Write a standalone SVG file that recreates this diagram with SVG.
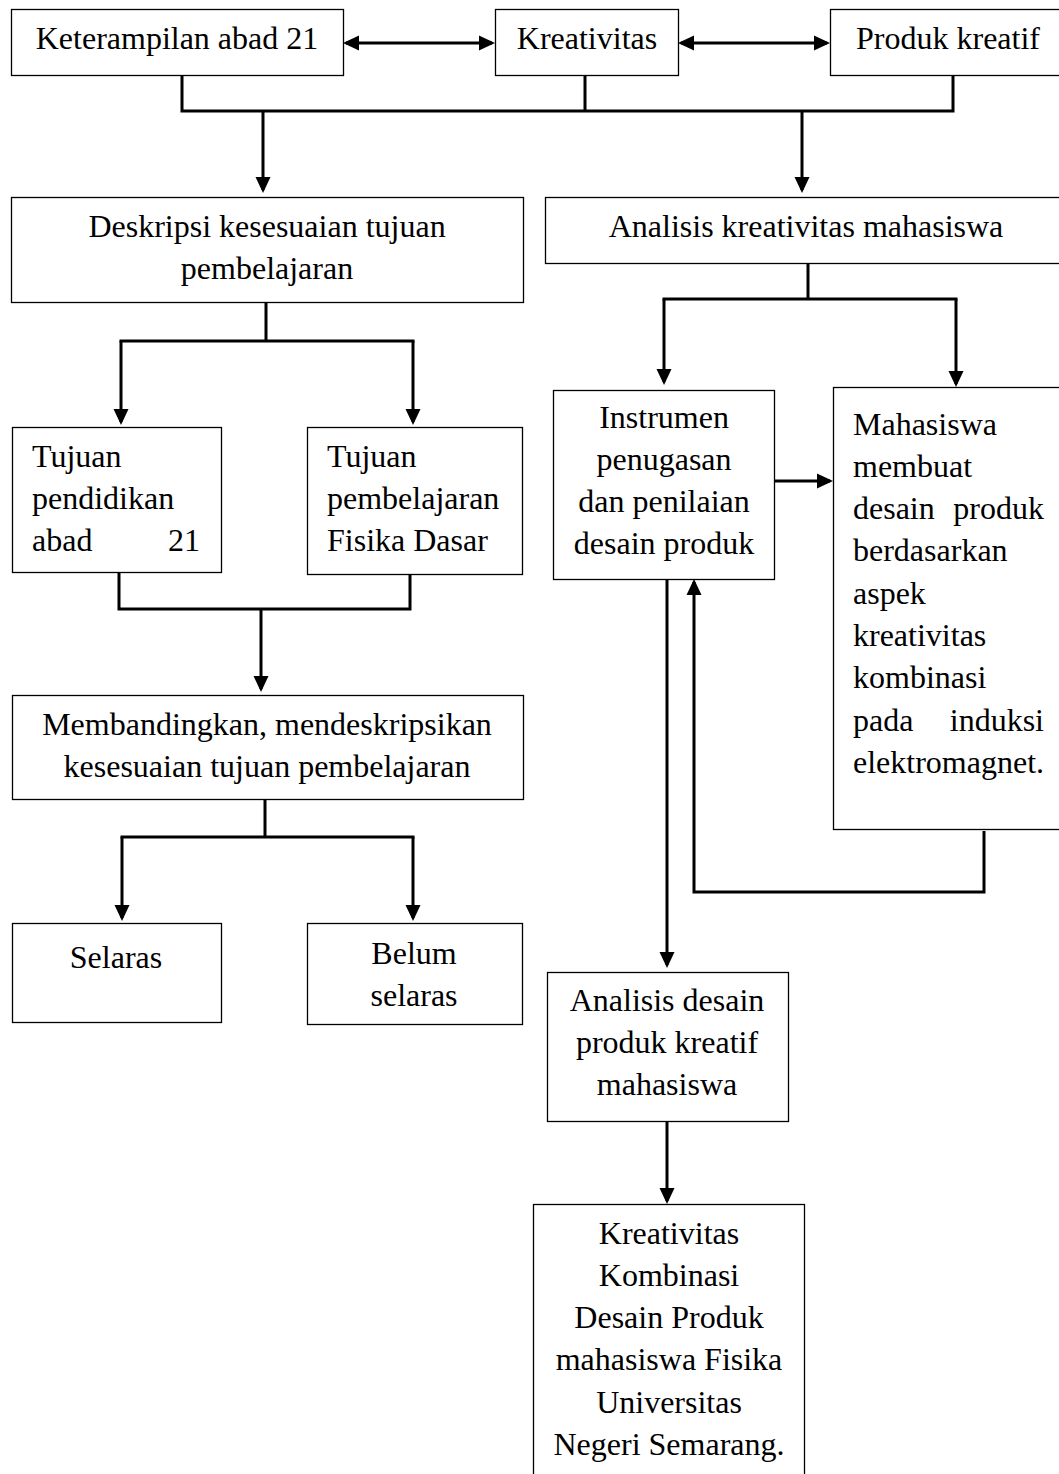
<svg xmlns="http://www.w3.org/2000/svg" width="1059" height="1474" viewBox="0 0 1059 1474">
<style>
.box{fill:#fff;stroke:#000;stroke-width:1.3}
.t{font-family:"Liberation Serif","Times New Roman",serif;font-size:32px;fill:#000}
.c{text-anchor:middle}
.e{text-anchor:end}
.ln{fill:none;stroke:#000;stroke-width:3}
</style>
<defs>
<marker id="arr" viewBox="0 0 16 16" refX="13" refY="8" markerWidth="16" markerHeight="16" markerUnits="userSpaceOnUse" orient="auto-start-reverse">
<path d="M0,0.5 L16,8 L0,15.5 z" fill="#000"/>
</marker>
</defs>
<rect width="1059" height="1474" fill="#fff"/>
<g id="connectors">
<path class="ln" d="M346,43 H492" marker-start="url(#arr)" marker-end="url(#arr)"/>
<path class="ln" d="M681,43 H827" marker-start="url(#arr)" marker-end="url(#arr)"/>
<path class="ln" d="M182,75 V111 M585,75 V111 M953,75 V111 M180.5,111 H954.5"/>
<path class="ln" d="M263,111 V190" marker-end="url(#arr)"/>
<path class="ln" d="M802,111 V190" marker-end="url(#arr)"/>
<path class="ln" d="M808,263 V299 M662.5,299 H957.5"/>
<path class="ln" d="M664,299 V382" marker-end="url(#arr)"/>
<path class="ln" d="M956,299 V384" marker-end="url(#arr)"/>
<path class="ln" d="M266,302 V341 M119.5,341 H414.5"/>
<path class="ln" d="M121,341 V422" marker-end="url(#arr)"/>
<path class="ln" d="M413,341 V422" marker-end="url(#arr)"/>
<path class="ln" d="M119,572 V609 M410,574 V609 M117.5,609 H411.5"/>
<path class="ln" d="M261,609 V689" marker-end="url(#arr)"/>
<path class="ln" d="M265,799 V837 M120.5,837 H414.5"/>
<path class="ln" d="M122,837 V918" marker-end="url(#arr)"/>
<path class="ln" d="M413,837 V918" marker-end="url(#arr)"/>
<path class="ln" d="M774,481 H830" marker-end="url(#arr)"/>
<path class="ln" d="M667,579 V965" marker-end="url(#arr)"/>
<path class="ln" d="M984,831 V892 H694 V582" marker-end="url(#arr)"/>
<path class="ln" d="M667,1121 V1201" marker-end="url(#arr)"/>
</g>
<g id="n1"><rect class="box" x="11.5" y="9.5" width="332" height="66"/><text class="t c" x="177" y="49">Keterampilan abad 21</text></g>
<g id="n2"><rect class="box" x="495.5" y="9.5" width="183" height="66"/><text class="t c" x="587" y="49">Kreativitas</text></g>
<g id="n3"><rect class="box" x="830.5" y="9.5" width="240" height="66"/><text class="t c" x="948" y="49">Produk kreatif</text></g>
<g id="n4"><rect class="box" x="11.5" y="197.5" width="512" height="105"/><text class="t c" x="267" y="237">Deskripsi kesesuaian tujuan</text><text class="t c" x="267" y="279">pembelajaran</text></g>
<g id="n5"><rect class="box" x="545.5" y="197.5" width="525" height="66"/><text class="t c" x="806" y="237">Analisis kreativitas mahasiswa</text></g>
<g id="n6"><rect class="box" x="12.5" y="427.5" width="209" height="145"/><text class="t" x="32" y="467">Tujuan</text><text class="t" x="32" y="509">pendidikan</text><text class="t" x="32" y="551">abad</text><text class="t e" x="200" y="551">21</text></g>
<g id="n7"><rect class="box" x="307.5" y="427.5" width="215" height="147"/><text class="t" x="327" y="467">Tujuan</text><text class="t" x="327" y="509">pembelajaran</text><text class="t" x="327" y="551">Fisika Dasar</text></g>
<g id="n8"><rect class="box" x="12.5" y="695.5" width="511" height="104"/><text class="t c" x="267" y="735">Membandingkan, mendeskripsikan</text><text class="t c" x="267" y="777">kesesuaian tujuan pembelajaran</text></g>
<g id="n9"><rect class="box" x="12.5" y="923.5" width="209" height="99"/><text class="t c" x="116" y="968">Selaras</text></g>
<g id="n10"><rect class="box" x="307.5" y="923.5" width="215" height="101"/><text class="t c" x="414" y="964">Belum</text><text class="t c" x="414" y="1006">selaras</text></g>
<g id="n11"><rect class="box" x="553.5" y="390.5" width="221" height="189"/><text class="t c" x="664" y="428">Instrumen</text><text class="t c" x="664" y="470">penugasan</text><text class="t c" x="664" y="512">dan penilaian</text><text class="t c" x="664" y="554">desain produk</text></g>
<g id="n12"><rect class="box" x="833.5" y="387.5" width="240" height="442"/><text class="t" x="853" y="435">Mahasiswa</text><text class="t" x="853" y="477">membuat</text><text class="t" x="853" y="519">desain</text><text class="t e" x="1044" y="519">produk</text><text class="t" x="853" y="561">berdasarkan</text><text class="t" x="853" y="604">aspek</text><text class="t" x="853" y="646">kreativitas</text><text class="t" x="853" y="688">kombinasi</text><text class="t" x="853" y="731">pada</text><text class="t e" x="1044" y="731">induksi</text><text class="t" x="853" y="773">elektromagnet.</text></g>
<g id="n13"><rect class="box" x="547.5" y="972.5" width="241" height="149"/><text class="t c" x="667" y="1011">Analisis desain</text><text class="t c" x="667" y="1053">produk kreatif</text><text class="t c" x="667" y="1095">mahasiswa</text></g>
<g id="n14"><rect class="box" x="533.5" y="1204.5" width="271" height="300"/><text class="t c" x="669" y="1244">Kreativitas</text><text class="t c" x="669" y="1286">Kombinasi</text><text class="t c" x="669" y="1328">Desain Produk</text><text class="t c" x="669" y="1370">mahasiswa Fisika</text><text class="t c" x="669" y="1413">Universitas</text><text class="t c" x="669" y="1455">Negeri Semarang.</text></g>
</svg>
